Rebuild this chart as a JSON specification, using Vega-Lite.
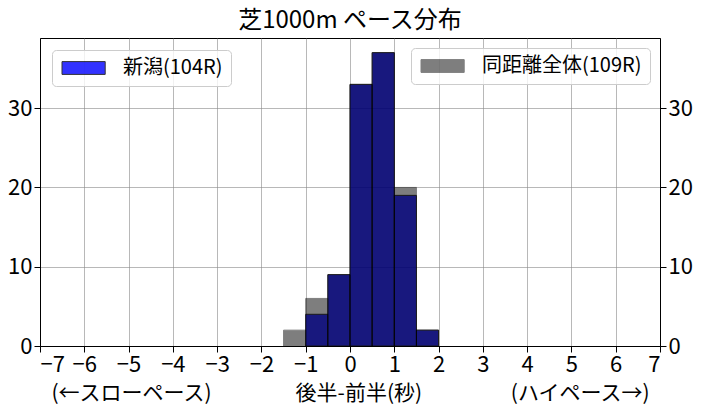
{
  "$schema": "https://vega.github.io/schema/vega-lite/v6.json",
  "width": 620,
  "height": 308,
  "autosize": "none",
  "padding": {"left": 40, "top": 38, "right": 41, "bottom": 65},
  "background": "white",
  "title": {
    "text": "芝1000m ペース分布",
    "fontSize": 24,
    "fontWeight": "normal",
    "font": "Noto Sans CJK JP",
    "color": "black",
    "offset": 5
  },
  "datasets": {
    "niigata": [
      {"bin_start": -1.0, "bin_end": -0.5, "count": 4},
      {"bin_start": -0.5, "bin_end": 0.0, "count": 9},
      {"bin_start": 0.0, "bin_end": 0.5, "count": 33},
      {"bin_start": 0.5, "bin_end": 1.0, "count": 37},
      {"bin_start": 1.0, "bin_end": 1.5, "count": 19},
      {"bin_start": 1.5, "bin_end": 2.0, "count": 2}
    ],
    "all": [
      {"bin_start": -1.5, "bin_end": -1.0, "count": 2},
      {"bin_start": -1.0, "bin_end": -0.5, "count": 6},
      {"bin_start": -0.5, "bin_end": 0.0, "count": 9},
      {"bin_start": 0.0, "bin_end": 0.5, "count": 33},
      {"bin_start": 0.5, "bin_end": 1.0, "count": 37},
      {"bin_start": 1.0, "bin_end": 1.5, "count": 20},
      {"bin_start": 1.5, "bin_end": 2.0, "count": 2}
    ]
  },
  "layer": [
    {
      "data": {"name": "niigata"},
      "mark": {"type": "rect", "opacity": 0.8, "stroke": "black", "strokeWidth": 1},
      "encoding": {
        "x": {
          "field": "bin_start",
          "type": "quantitative",
          "scale": {"domain": [-7, 7], "nice": false, "zero": false},
          "axis": {
            "values": [-7, -6, -5, -4, -3, -2, -1, 0, 1, 2, 3, 4, 5, 6, 7],
            "labelExpr": "replace(datum.label, '-', '−')",
            "labelOverlap": false,
            "title": "(←スローペース)　　　　後半-前半(秒)　　　　  (ハイペース→)"
          }
        },
        "x2": {"field": "bin_end"},
        "y": {
          "field": "count",
          "type": "quantitative",
          "scale": {"domain": [0, 38.85], "nice": false},
          "axis": {"orient": "left", "values": [0, 10, 20, 30], "title": null, "grid": true}
        },
        "y2": {"datum": 0},
        "color": {
          "datum": "新潟(104R)",
          "type": "nominal",
          "scale": {"range": ["blue"]},
          "legend": {"orient": "top-left", "offset": 12, "symbolOpacity": 0.8}
        }
      }
    },
    {
      "data": {"name": "all"},
      "mark": {"type": "rect", "opacity": 0.5, "stroke": "black", "strokeWidth": 1},
      "encoding": {
        "x": {"field": "bin_start", "type": "quantitative"},
        "x2": {"field": "bin_end"},
        "y": {
          "field": "count",
          "type": "quantitative",
          "axis": {"orient": "right", "values": [0, 10, 20, 30], "title": null, "grid": false}
        },
        "y2": {"datum": 0},
        "color": {
          "datum": "同距離全体(109R)",
          "type": "nominal",
          "scale": {"range": ["black"]},
          "legend": {"orient": "top-right", "offset": 10, "symbolOpacity": 0.5}
        }
      }
    }
  ],
  "resolve": {
    "scale": {"color": "independent"},
    "legend": {"color": "independent"},
    "axis": {"y": "independent"}
  },
  "config": {
    "font": "Noto Sans CJK JP",
    "view": {"stroke": "black", "strokeWidth": 1},
    "axis": {
      "labelFont": "Noto Sans CJK JP",
      "labelFontSize": 22,
      "labelColor": "black",
      "labelPadding": 2,
      "tickColor": "black",
      "tickSize": 6,
      "tickWidth": 1,
      "domainColor": "black",
      "domainWidth": 1,
      "grid": true,
      "gridColor": "#888888",
      "gridOpacity": 0.6,
      "gridWidth": 1,
      "zindex": 1,
      "titleFont": "Noto Sans CJK JP",
      "titleFontSize": 21,
      "titleFontWeight": "normal",
      "titleColor": "black",
      "titlePadding": 7
    },
    "legend": {
      "title": null,
      "labelFont": "Noto Sans CJK JP",
      "labelFontSize": 20,
      "labelColor": "black",
      "labelLimit": 400,
      "labelOffset": 43,
      "symbolType": "M-1,-0.8H4.4V0.8H-1Z",
      "symbolSize": 256,
      "symbolStrokeColor": "black",
      "symbolStrokeWidth": 1,
      "padding": 8,
      "strokeColor": "#cccccc",
      "cornerRadius": 4,
      "fillColor": "rgba(255,255,255,0.8)"
    }
  }
}
